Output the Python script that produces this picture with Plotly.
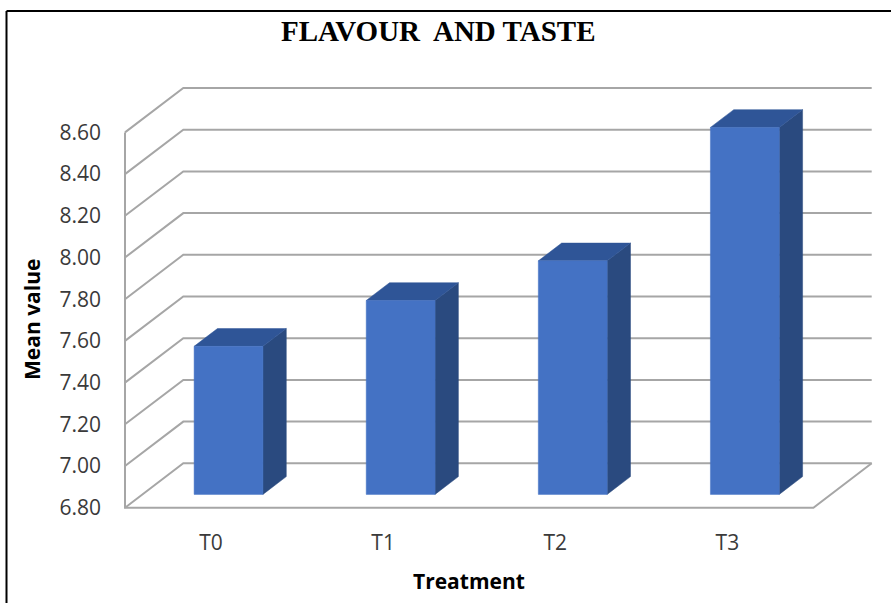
import plotly.graph_objects as go

# Sensory score data
treatments = ["T0", "T1", "T2", "T3"]
mean_values = [7.51, 7.73, 7.92, 8.56]
tick_values = [6.80, 7.00, 7.20, 7.40, 7.60, 7.80, 8.00, 8.20, 8.40, 8.60]
tick_labels = ["6.80", "7.00", "7.20", "7.40", "7.60", "7.80", "8.00", "8.20", "8.40", "8.60"]

# Oblique projection of the chart box (depth offset in axis units)
DX = 0.3388
DY = 0.213
BASE = tick_values[0]
TOP = tick_values[-1]
n = len(treatments)
XL, XR = -0.5, n - 0.5
HALF_W = 0.2
F_FRONT, F_BACK = 0.3, 0.7

FRONT_C = "#4472C4"
SIDE_C = "#2A4A7F"
TOP_C = "#2F5597"
GRID_C = "#A6A6A6"

W, H = 891, 603
L, R, T, B = 110, 880, 80, 515
PX_PER_UNIT = 208.5
y_lo = BASE - (B - 507.7) / PX_PER_UNIT
y_hi = BASE + (507.7 - T) / PX_PER_UNIT
x_lo = XL - (125 - L) / 172.1
x_hi = XL + (R - 125) / 172.1


def px(xp):
    return (xp - L) / (R - L)


def py(yp):
    return (B - yp) / (B - T)


fig = go.Figure()

# Walls and floor gridlines
for t in tick_values:
    fig.add_trace(go.Scatter(
        x=[XL, XL + DX, XR + DX], y=[t, t + DY, t + DY],
        mode="lines", line=dict(color=GRID_C, width=2),
        hoverinfo="skip", showlegend=False))
fig.add_trace(go.Scatter(
    x=[XL, XL, XR, XR + DX], y=[TOP, BASE, BASE, BASE + DY],
    mode="lines", line=dict(color=GRID_C, width=2),
    hoverinfo="skip", showlegend=False))

# 3D columns: front, side and top faces
for i, v in enumerate(mean_values):
    x0 = i - HALF_W + F_FRONT * DX
    x1 = i + HALF_W + F_FRONT * DX
    yb = BASE + F_FRONT * DY
    yt = v + F_FRONT * DY
    ddx = (F_BACK - F_FRONT) * DX
    ddy = (F_BACK - F_FRONT) * DY
    faces = [
        ([x1, x1, x1 + ddx, x1 + ddx, x1], [yb, yt, yt + ddy, yb + ddy, yb], SIDE_C),
        ([x0, x1, x1 + ddx, x0 + ddx, x0], [yt, yt, yt + ddy, yt + ddy, yt], TOP_C),
        ([x0, x1, x1, x0, x0], [yb, yb, yt, yt, yb], FRONT_C),
    ]
    for fx, fy, c in faces:
        fig.add_trace(go.Scatter(
            x=fx, y=fy, mode="lines", fill="toself", fillcolor=c,
            line=dict(color=c, width=0.5), name=treatments[i],
            hovertemplate=f"{treatments[i]}: {v:.2f}<extra></extra>",
            showlegend=False))

fig.update_layout(
    width=W, height=H,
    margin=dict(l=L, r=W - R, t=T, b=H - B),
    paper_bgcolor="white", plot_bgcolor="white",
    font=dict(family="Open Sans", color="#3A3A3A"),
    xaxis=dict(range=[x_lo, x_hi], showgrid=False, zeroline=False, showline=False,
               tickmode="array", tickvals=list(range(n)), ticktext=treatments,
               ticks="", ticklabelstandoff=13, tickfont=dict(size=21, color="#3A3A3A")),
    yaxis=dict(range=[y_lo, y_hi], showgrid=False, zeroline=False, showline=False,
               tickmode="array", tickvals=tick_values, ticktext=tick_labels,
               ticks="", ticklabelstandoff=8, tickfont=dict(size=21, color="#3A3A3A")),
    annotations=[
        dict(text="FLAVOUR&nbsp; AND TASTE", x=px(437.5), y=py(31), xref="paper", yref="paper",
             xanchor="center", yanchor="middle", showarrow=False,
             font=dict(family="Liberation Serif", size=29, color="black", weight="bold")),
        dict(text="<b>Mean value</b>", x=px(32), y=py(320), xref="paper", yref="paper",
             xanchor="center", yanchor="middle", textangle=-90, showarrow=False,
             font=dict(family="Open Sans", size=21, color="black")),
        dict(text="<b>Treatment</b>", x=px(469), y=py(581), xref="paper", yref="paper",
             xanchor="center", yanchor="middle", showarrow=False,
             font=dict(family="Open Sans", size=21, color="black")),
    ],
    shapes=[
        dict(type="line", xref="paper", yref="paper", x0=px(6.5), x1=px(6.5),
             y0=py(H + 5), y1=py(11), line=dict(color="black", width=2)),
        dict(type="line", xref="paper", yref="paper", x0=px(6.5), x1=px(W + 5),
             y0=py(11), y1=py(11), line=dict(color="black", width=2)),
    ],
)

fig.write_html("out.html")
